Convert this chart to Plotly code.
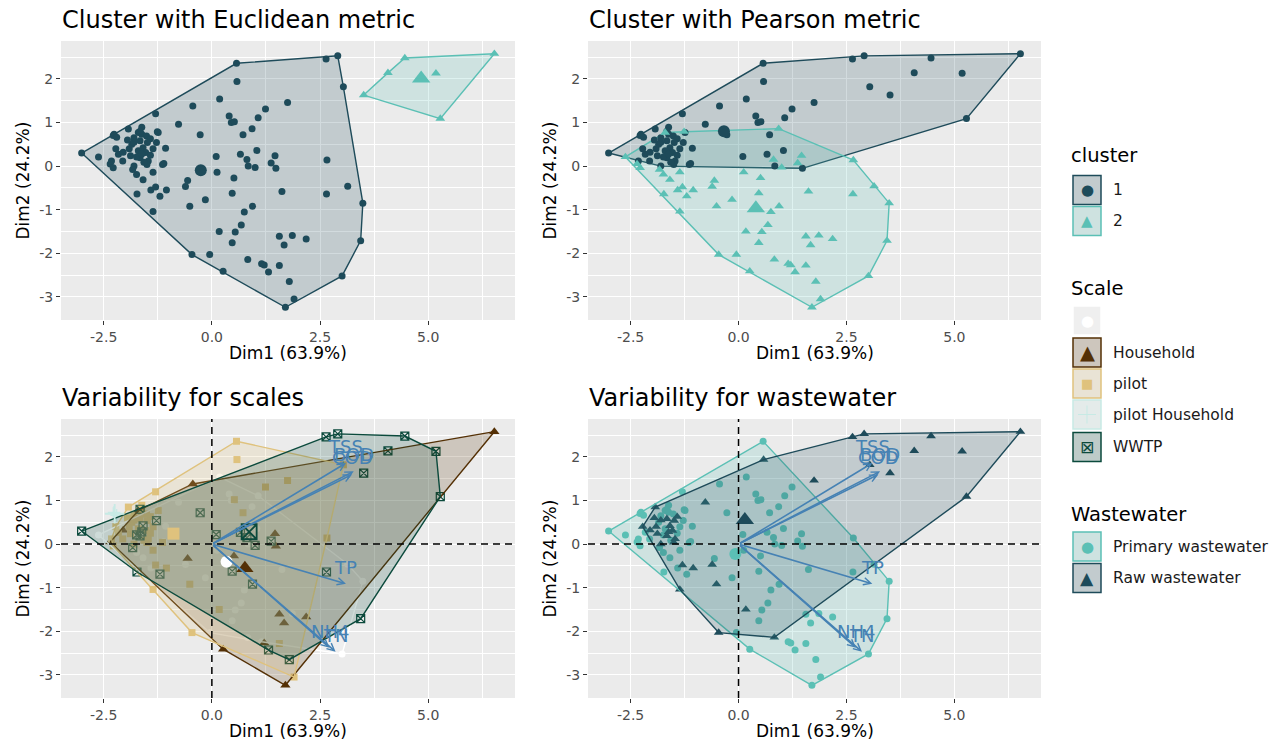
import plotly.graph_objects as go

FONT = "DejaVu Sans"
W, H = 1280, 747

# ---------------- data (PCA individuals) ----------------
dim1 = [
    -3.01, 0.57, 2.64, 2.91, 3.04, 3.49, 3.44, 3.01, 1.70, 1.90, 0.26, -0.46,
    6.53, 4.46, 4.07, 3.51, 5.28, 5.18,
    0.58, 0.18, 1.75, 1.24, 1.07, 0.40, 0.45, 0.52, 0.93, 0.72, -0.44, -0.77, -1.30, -0.27, -1.26,
    0.66, 0.81, 1.04, 1.46, 1.37, 1.48, 1.00, 0.84, 2.66, 0.10, 0.12, 0.51, -0.56, -0.61, -0.15, -0.51, 0.47,
    -1.73, -1.41, -1.30, -1.20, -1.05, -1.59, -1.74, -1.36,
    0.75, 0.94, 0.68, 0.54, 0.17, 0.47, 1.62, 3.14, 2.65, 1.56, 1.86, 2.18, 1.67, -0.05, 0.83, 1.15, 1.21, 1.31, 1.56, 1.79,
    -2.62, -2.26, -1.93, -1.07, -1.11, -1.83, -1.80, -2.35, -2.28, -2.32, -2.16, -2.06, -1.91, -1.85, -1.80,
    -1.66, -1.70, -1.62, -1.51, -1.42, -1.28, -1.49, -1.59, -1.70, -1.53, -1.42, -1.47, -1.50, -1.66, -1.36,
    -1.24, -1.62, -2.05, -1.66, -1.74, -1.62, -1.14, -2.22, -1.88, -2.28, -2.20, -1.80, -1.95, -1.57, -1.36,
]
dim2 = [
    0.30, 2.36, 2.46, 2.53, 1.82, -0.85, -1.71, -2.52, -3.24, -3.05, -2.41, -2.03,
    2.58, 2.48, 2.14, 1.63, 1.09, 2.13,
    1.94, 1.54, 1.46, 1.31, 1.11, 1.15, 1.00, 1.02, 0.86, 0.72, 1.38, 0.96, 1.20, 0.72, 0.79,
    0.27, 0.15, 0.36, 0.24, 0.07, -0.05, -0.03, 0.00, 0.14, 0.22, -0.14, -0.27, -0.33, -0.47, -0.77, -0.92, -0.62,
    -0.64, -0.55, -0.48, -0.69, -0.55, -0.31, -0.19, -1.04,
    -1.05, -0.92, -1.35, -1.51, -1.50, -1.76, -0.58, -0.46, -0.64, -1.61, -1.59, -1.67, -1.81, -2.03, -2.14, -2.24, -2.27, -2.43, -2.28, -2.65,
    0.21, 0.73, 0.85, 0.41, 0.06, -0.08, 0.00, 0.05, -0.04, 0.12, 0.27, 0.12, 0.40, 0.50, 0.55,
    0.58, 0.77, 0.73, 0.69, 0.63, 0.54, 0.54, 0.42, 0.35, 0.31, 0.25, 0.12, 0.04, 0.19, 0.40,
    0.77, 0.89, 0.32, 0.80, 0.21, 0.28, 0.04, 0.40, 0.24, 0.70, 0.66, 0.65, 0.60, 0.09, -0.14,
]
cluster_euclid = (
    ["1"] * 12 + ["2"] * 6 + ["1"] * 15 + ["1"] * 17 + ["1"] * 8 + ["1"] * 20 + ["1"] * 45
)
cluster_pearson = [
    "1", "1", "1", "1", "1", "2", "2", "2", "2", "2", "2", "2",
    "1", "1", "1", "1", "1", "1",
    "1", "1", "1", "1", "1", "1", "1", "1", "2", "1", "1", "1", "1", "1", "2",
    "1", "2", "1", "2", "2", "1", "2", "1", "2", "1", "2", "2", "2", "2", "2", "2", "2",
    "2", "2", "2", "2", "2", "2", "2", "2",
    "2", "2", "2", "2", "2", "2", "2", "2", "2", "2", "2", "2", "2", "2", "2", "2", "2", "2", "2", "2",
    "2", "1", "1", "1", "1", "2", "1", "2", "2", "1", "1", "1", "1", "1", "1",
    "1", "2", "1", "1", "1", "1", "1", "1", "1", "1", "1", "1", "1", "1", "1",
    "1", "1", "1", "1", "1", "1", "1", "1", "1", "1", "1", "1", "1", "1", "2",
]
# scale codes: N = (blank), H = Household, P = pilot, PH = pilot Household, W = WWTP
scale_code = [
    "W", "P", "W", "W", "P", "N", "W", "N", "H", "P", "H", "P",
    "H", "W", "W", "W", "W", "W",
    "P", "N", "P", "P", "N", "N", "N", "P", "N", "P", "H", "N", "P", "W", "N",
    "W", "W", "N", "H", "W", "H", "W", "N", "P", "W", "N", "H", "H", "N", "N", "P", "W",
    "W", "N", "P", "W", "P", "N", "N", "P",
    "N", "W", "N", "N", "P", "N", "N", "N", "W", "H", "N", "H", "H", "N", "N", "N", "H", "W", "P", "W",
    "N", "PH", "P", "N", "N", "W", "P", "H", "P", "P", "P", "P", "P", "P", "P",
    "P", "H", "P", "P", "P", "W", "P", "W", "P", "P", "P", "P", "P", "W", "P",
    "P", "P", "H", "W", "W", "W", "P", "P", "P", "PH", "PH", "P", "P", "P", "P",
]
# water codes: PW = Primary wastewater, RW = Raw wastewater
water_code = [
    "PW", "PW", "RW", "RW", "RW", "PW", "PW", "PW", "PW", "PW", "PW", "RW",
    "RW", "RW", "RW", "RW", "RW", "RW",
    "RW", "PW", "RW", "PW", "PW", "PW", "PW", "PW", "PW", "PW", "PW", "RW", "PW", "PW", "PW",
    "PW", "PW", "PW", "PW", "PW", "PW", "PW", "PW", "PW", "PW", "PW", "PW", "PW", "RW", "PW", "RW", "PW",
    "PW", "PW", "RW", "PW", "RW", "PW", "PW", "RW",
    "PW", "PW", "PW", "PW", "RW", "PW", "PW", "PW", "PW", "PW", "PW", "PW", "PW", "PW", "RW", "PW", "PW", "PW", "PW", "PW",
    "PW", "PW", "RW", "PW", "PW", "PW", "RW", "PW", "PW", "PW", "PW", "PW", "RW", "PW", "RW",
    "RW", "PW", "PW", "PW", "RW", "PW", "RW", "RW", "PW", "RW", "PW", "RW", "RW", "RW", "PW",
    "PW", "PW", "RW", "PW", "PW", "RW", "PW", "RW", "RW", "PW", "PW", "PW", "RW", "PW", "PW",
]

# variables (biplot arrows)
var_names = ["TSS", "BOD", "COD", "TP", "NH4", "TN"]
var_dim1 = [3.10, 3.28, 3.24, 3.10, 2.72, 2.86]
var_dim2 = [1.86, 1.67, 1.60, -0.91, -2.38, -2.47]

x_tickvals = [-2.5, 0.0, 2.5, 5.0]
x_ticktext = ["-2.5", "0.0", "2.5", "5.0"]
x_minor = [-1.25, 1.25, 3.75, 6.25]
y_tickvals = [-3, -2, -1, 0, 1, 2]
y_ticktext = ["-3", "-2", "-1", "0", "1", "2"]
y_minor = [-2.5, -1.5, -0.5, 0.5, 1.5, 2.5]

x_title = "Dim1 (63.9%)"
y_title = "Dim2 (24.2%)"

SCALE_NAMES = {"N": "", "H": "Household", "P": "pilot", "PH": "pilot Household", "W": "WWTP"}
WATER_NAMES = {"PW": "Primary wastewater", "RW": "Raw wastewater"}

n = len(dim1)
assert all(len(a) == n for a in (dim2, cluster_euclid, cluster_pearson, scale_code, water_code))
scale = [SCALE_NAMES[c] for c in scale_code]
water = [WATER_NAMES[c] for c in water_code]

cluster_levels = ["1", "2"]
scale_levels = ["", "Household", "pilot", "pilot Household", "WWTP"]
water_levels = ["Primary wastewater", "Raw wastewater"]

# ---------------- styles ----------------
DARK = "#1E4B5A"
TEAL = "#5BC0B5"
STEEL = "#4682B4"
BG = "#EBEBEB"

STYLE = {
    "cluster": {
        "1": dict(color=DARK, symbol="circle", size=7, csize=12),
        "2": dict(color=TEAL, symbol="triangle-up", size=8.5, csize=16),
    },
    "scale": {
        "": dict(color="#FFFFFF", symbol="circle", size=7, csize=12),
        "Household": dict(color="#543005", symbol="triangle-up", size=9, csize=15),
        "pilot": dict(color="#DFC27D", symbol="square", size=7, csize=12),
        "pilot Household": dict(color="#C7EAE5", symbol="cross-thin-open", size=9, csize=14),
        "WWTP": dict(color="#0B4A3C", symbol="square-x-open", size=8, csize=15),
    },
    "water": {
        "Primary wastewater": dict(color=TEAL, symbol="circle", size=7, csize=12),
        "Raw wastewater": dict(color=DARK, symbol="triangle-up", size=8.5, csize=16),
    },
}


def rgba(hexc, a):
    h = hexc.lstrip("#")
    r, g, b = int(h[0:2], 16), int(h[2:4], 16), int(h[4:6], 16)
    return f"rgba({r},{g},{b},{a})"


def blend(hexc, a, bg=BG):
    h = hexc.lstrip("#")
    hb = bg.lstrip("#")
    c = [int(h[i:i + 2], 16) for i in (0, 2, 4)]
    b = [int(hb[i:i + 2], 16) for i in (0, 2, 4)]
    m = [round(a * c[i] + (1 - a) * b[i]) for i in range(3)]
    return "#%02X%02X%02X" % tuple(m)


def marker(st, big=False):
    size = st["csize"] if big else st["size"]
    m = dict(color=st["color"], symbol=st["symbol"], size=size)
    if st["symbol"].endswith("open"):
        m["line"] = dict(color=st["color"], width=1.8 if big else 1.2)
    else:
        m["line"] = dict(width=0)
    return m


def convex_hull(points):
    pts = sorted(set(points))
    if len(pts) <= 2:
        return pts

    def cross(o, a, b):
        return (a[0] - o[0]) * (b[1] - o[1]) - (a[1] - o[1]) * (b[0] - o[0])

    lower, upper = [], []
    for p in pts:
        while len(lower) >= 2 and cross(lower[-2], lower[-1], p) <= 0:
            lower.pop()
        lower.append(p)
    for p in reversed(pts):
        while len(upper) >= 2 and cross(upper[-2], upper[-1], p) <= 0:
            upper.pop()
        upper.append(p)
    return lower[:-1] + upper[:-1]


fig = go.Figure()


def group_xy(labels, level):
    xs = [dim1[i] for i in range(n) if labels[i] == level]
    ys = [dim2[i] for i in range(n) if labels[i] == level]
    return xs, ys


def add_hull(labels, level, st, xa, ya):
    xs, ys = group_xy(labels, level)
    hull = convex_hull(list(zip(xs, ys)))
    if not hull:
        return
    hx = [p[0] for p in hull] + [hull[0][0]]
    hy = [p[1] for p in hull] + [hull[0][1]]
    fig.add_trace(go.Scatter(
        x=hx, y=hy, mode="lines", fill="toself",
        fillcolor=rgba(st["color"], 0.2),
        line=dict(color=st["color"], width=1.4),
        xaxis=xa, yaxis=ya, hoverinfo="skip", showlegend=False))


def add_points(labels, level, st, xa, ya):
    xs, ys = group_xy(labels, level)
    fig.add_trace(go.Scatter(
        x=xs, y=ys, mode="markers", marker=marker(st),
        xaxis=xa, yaxis=ya, name=level, showlegend=False))


def add_centroid(labels, level, st, xa, ya):
    xs, ys = group_xy(labels, level)
    if not xs:
        return
    fig.add_trace(go.Scatter(
        x=[sum(xs) / len(xs)], y=[sum(ys) / len(ys)], mode="markers",
        marker=marker(st, big=True), xaxis=xa, yaxis=ya, showlegend=False))


# Panel 1 & 2: cluster plots (hull, then points, then centroids)
for labels, xa, ya in ((cluster_euclid, "x", "y"), (cluster_pearson, "x2", "y2")):
    for lv in cluster_levels:
        add_hull(labels, lv, STYLE["cluster"][lv], xa, ya)
    for lv in cluster_levels:
        add_points(labels, lv, STYLE["cluster"][lv], xa, ya)
    for lv in cluster_levels:
        add_centroid(labels, lv, STYLE["cluster"][lv], xa, ya)

# Panel 3 & 4: biplots (points, then hulls on top, then centroids)
for labels, levels, key, xa, ya in ((scale, scale_levels, "scale", "x3", "y3"),
                                   (water, water_levels, "water", "x4", "y4")):
    for lv in levels:
        add_points(labels, lv, STYLE[key][lv], xa, ya)
    for lv in levels:
        add_hull(labels, lv, STYLE[key][lv], xa, ya)
    for lv in levels:
        add_centroid(labels, lv, STYLE[key][lv], xa, ya)

# ---------------- layout ----------------
xmin, xmax = min(dim1), max(dim1)
ymin, ymax = min(dim2), max(dim2)
xpad = 0.05 * (xmax - xmin)
ypad = 0.05 * (ymax - ymin)
x_range = [xmin - xpad, xmax + xpad]
y_range = [ymin - ypad, ymax + ypad]

PANELS = [
    dict(xa="x", ya="y", px=(61, 515), py=(41, 320), title="Cluster with Euclidean metric"),
    dict(xa="x2", ya="y2", px=(588, 1041), py=(41, 320), title="Cluster with Pearson metric"),
    dict(xa="x3", ya="y3", px=(61, 515), py=(419, 698), title="Variability for scales"),
    dict(xa="x4", ya="y4", px=(588, 1041), py=(419, 698), title="Variability for wastewater"),
]


def fx(p):
    return p / W


def fy(p):
    return 1 - p / H


tickfont = dict(family=FONT, size=14, color="#4D4D4D")
annotations = []
shapes = []
layout_axes = {}

for pn in PANELS:
    xs_ = pn["xa"][1:]
    ys_ = pn["ya"][1:]
    layout_axes["xaxis" + xs_] = dict(
        domain=[fx(pn["px"][0]), fx(pn["px"][1])], anchor=pn["ya"], range=x_range,
        tickvals=x_tickvals, ticktext=x_ticktext, showgrid=True, gridcolor="white", gridwidth=1.1,
        minor=dict(tickvals=x_minor, showgrid=True, gridcolor="white", gridwidth=0.5),
        zeroline=False, showline=False, ticks="outside", ticklen=4, tickcolor="#333333",
        tickwidth=1, tickfont=tickfont, fixedrange=True)
    layout_axes["yaxis" + ys_] = dict(
        domain=[fy(pn["py"][1]), fy(pn["py"][0])], anchor=pn["xa"], range=y_range,
        tickvals=y_tickvals, ticktext=y_ticktext, showgrid=True, gridcolor="white", gridwidth=1.1,
        minor=dict(tickvals=y_minor, showgrid=True, gridcolor="white", gridwidth=0.5),
        zeroline=False, showline=False, ticks="outside", ticklen=4, tickcolor="#333333",
        tickwidth=1, tickfont=tickfont, fixedrange=True)
    # titles
    annotations.append(dict(
        text=pn["title"], xref="paper", yref="paper", x=fx(pn["px"][0] - 1), y=fy(pn["py"][0] - 21),
        xanchor="left", yanchor="middle", showarrow=False,
        font=dict(family=FONT, size=24, color="#000000")))
    annotations.append(dict(
        text=x_title, xref="paper", yref="paper", x=fx((pn["px"][0] + pn["px"][1]) / 2),
        y=fy(pn["py"][1] + 33), xanchor="center", yanchor="middle", showarrow=False,
        font=dict(family=FONT, size=17, color="#000000")))
    annotations.append(dict(
        text=y_title, xref="paper", yref="paper", x=fx(pn["px"][0] - 39),
        y=fy((pn["py"][0] + pn["py"][1]) / 2), xanchor="center", yanchor="middle",
        textangle=-90, showarrow=False, font=dict(family=FONT, size=17, color="#000000")))

# biplot extras: dashed zero lines, arrows, labels
for xa, ya in (("x3", "y3"), ("x4", "y4")):
    shapes.append(dict(type="line", xref=xa + " domain", yref=ya, x0=0, x1=1, y0=0, y1=0,
                       line=dict(color="black", width=1.5, dash="7px,5px"), layer="above"))
    shapes.append(dict(type="line", xref=xa, yref=ya + " domain", x0=0, x1=0, y0=0, y1=1,
                       line=dict(color="black", width=1.5, dash="7px,5px"), layer="above"))
    for nm, vx, vy in zip(var_names, var_dim1, var_dim2):
        annotations.append(dict(
            x=vx, y=vy, ax=0, ay=0, xref=xa, yref=ya, axref=xa, ayref=ya, text="",
            showarrow=True, arrowhead=5, arrowsize=0.9, arrowwidth=1.6, arrowcolor=STEEL))
    for nm, vx, vy in zip(var_names, var_dim1, var_dim2):
        annotations.append(dict(
            x=vx, y=vy, xref=xa, yref=ya, text=nm, showarrow=False, xanchor="center",
            yanchor="bottom", yshift=4, font=dict(family=FONT, size=18, color=STEEL)))

# ---------------- manual ggplot-style legend ----------------
KEY_X0, KEY_X1 = 1073, 1101
KEY_CX = (KEY_X0 + KEY_X1) / 2
LABEL_X = 1111
TITLE_X = 1069

legend_spec = [
    ("cluster", 156, "cluster", cluster_levels, [190, 221]),
    ("Scale", 288, "scale", scale_levels, [320.5, 352.5, 383.5, 414.5, 447]),
    ("Wastewater", 514, "water", water_levels, [546.5, 578]),
]
GLYPH = {"circle": ("\u25CF", 15), "triangle-up": ("\u25B2", 15), "square": ("\u25A0", 13),
         "square-x-open": ("\u22A0", 17)}
glyph_scale = {"Household": 1.3, "Raw wastewater": 1.15, "2": 1.0}

for title, ty, key, levels, cys in legend_spec:
    annotations.append(dict(
        text=title, xref="paper", yref="paper", x=fx(TITLE_X), y=fy(ty), xanchor="left",
        yanchor="middle", showarrow=False, font=dict(family=FONT, size=19.5, color="#000000")))
    for lv, cy in zip(levels, cys):
        st = STYLE[key][lv]
        shapes.append(dict(type="rect", xref="paper", yref="paper",
                           x0=fx(KEY_X0), x1=fx(KEY_X1), y0=fy(cy + 14.5), y1=fy(cy - 14.5),
                           fillcolor=blend(st["color"], 0.2), line=dict(color=st["color"], width=1.5)))
        if st["symbol"] == "cross-thin-open":
            shapes.append(dict(type="line", xref="paper", yref="paper", x0=fx(KEY_CX - 9),
                               x1=fx(KEY_CX + 9), y0=fy(cy), y1=fy(cy),
                               line=dict(color=st["color"], width=1)))
            shapes.append(dict(type="line", xref="paper", yref="paper", x0=fx(KEY_CX),
                               x1=fx(KEY_CX), y0=fy(cy - 9), y1=fy(cy + 9),
                               line=dict(color=st["color"], width=1)))
        else:
            g, gs = GLYPH[st["symbol"]]
            gs = gs * glyph_scale.get(lv, 1.0)
            annotations.append(dict(
                text=g, xref="paper", yref="paper", x=fx(KEY_CX), y=fy(cy), xanchor="center",
                yanchor="middle", showarrow=False, font=dict(family=FONT, size=gs, color=st["color"])))
        annotations.append(dict(
            text=lv, xref="paper", yref="paper", x=fx(LABEL_X), y=fy(cy), xanchor="left",
            yanchor="middle", showarrow=False, font=dict(family=FONT, size=15.5, color="#1A1A1A")))

fig.update_layout(
    width=W, height=H, margin=dict(l=0, r=0, t=0, b=0, autoexpand=False),
    paper_bgcolor="white", plot_bgcolor=BG, showlegend=False,
    font=dict(family=FONT), annotations=annotations, shapes=shapes, **layout_axes)

fig.write_html("out.html", config={"displayModeBar": False},
               post_script="document.body.style.margin='0px';")
